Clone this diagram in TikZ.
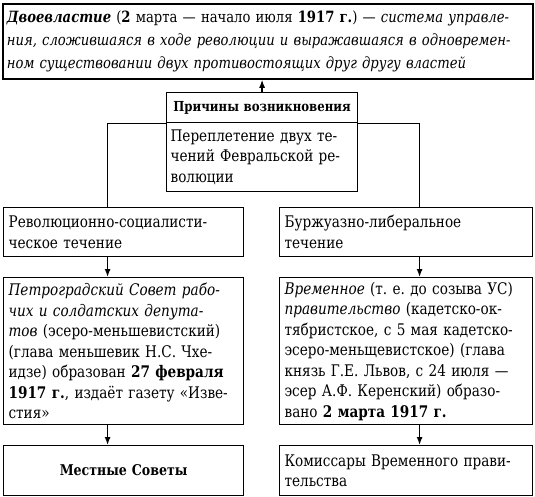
\documentclass[tikz,border=0pt]{standalone}
\usepackage{fontspec}
\setmainfont[FakeStretch=0.85]{DejaVu Serif}
\usetikzlibrary{arrows.meta,positioning,calc}
\newcommand\jl[1]{\makebox[\hsize][s]{#1}\\}
\tikzset{
  box/.style={draw=black,line width=1.2pt,anchor=north west,inner xsep=5pt,inner ysep=2pt,align=left,font=\fontsize{16}{20.5}\selectfont},
  arr/.style={-{Latex[length=8pt,width=6pt]},line width=1.3pt},
  lnk/.style={line width=1.3pt},
}
\frenchspacing

\begin{document}
\begin{tikzpicture}[x=1pt,y=-1pt]
  \useasboundingbox (0,0) rectangle (535,496);
  % definition
  \node[box,line width=1.8pt,inner xsep=4pt,text width=522pt,minimum height=75pt,font=\fontsize{15.5}{23}\selectfont] (def) at (2,3)
    {\jl{\textbf{\textit{Двоевластие}} (\textbf{2} марта — начало июля \textbf{1917 г.}) — \textit{система управле-}}
     \jl{\textit{ния, сложившаяся в ходе революции и выражавшаяся в одновремен-}}
     \textit{ном существовании двух противостоящих друг другу властей}};
  % causes
  \node[box,inner xsep=4pt,text width=183pt,minimum height=30pt,align=center,font=\fontsize{13.8}{14}\selectfont\bfseries] (why) at (166,92) {Причины возникновения};
  \node[box,inner xsep=4pt,text width=183pt,minimum height=69pt] (cause) at (166,122)
    {\jl{Переплетение двух те-}\jl{чений Февральской ре-}волюции};
  % two currents
  \node[box,text width=230pt,minimum height=49pt] (soc) at (3,207) {Революционно-социалисти-\\ческое течение};
  \node[box,text width=243pt,minimum height=49pt] (lib) at (279,207) {Буржуазно-либеральное\\течение};
  % bodies of power
  \node[box,text width=230pt,minimum height=147pt] (sovet) at (3,277)
    {\jl{\textit{Петроградский Совет рабо-}}
     \jl{\textit{чих и солдатских депута-}}
     \jl{\textit{тов} (эсеро-меньшевистский)}
     \jl{(глава меньшевик Н.С. Чхе-}
     \jl{идзе) образован \textbf{27 февраля}}
     \jl{\textbf{1917 г.}, издаёт газету «Изве-}
     стия»};
  \node[box,text width=243pt,minimum height=147pt] (govt) at (279,277)
    {\jl{\textit{Временное} (т. е. до созыва УС)}
     \jl{\textit{правительство} (кадетско-ок-}
     \jl{тябристское, с 5 мая кадетско-}
     \jl{эсеро-меньщевистское) (глава}
     \jl{князь Г.Е. Львов, с 24 июля —}
     \jl{эсер А.Ф. Керенский) образо-}
     вано \textbf{2 марта 1917 г.}};
  % local level
  \node[box,text width=230pt,minimum height=50pt,align=center,font=\fontsize{14.8}{20.5}\selectfont\bfseries] (local) at (3,445) {Местные Советы};
  \node[box,text width=243pt,minimum height=50pt] (komis) at (279,445)
    {\jl{Комиссары Временного прави-}тельства};
  % connectors
  \draw[arr] (why.north) -- (why.north |- def.south);
  \draw[lnk] ([xshift=-16pt]soc.north) |- (why.south west);
  \draw[lnk] ([xshift=13.5pt]lib.north) |- (why.south east);
  \draw[arr] ([xshift=-16pt]soc.south) -- ([xshift=-16pt]sovet.north);
  \draw[arr] ([xshift=13.5pt]lib.south) -- ([xshift=13.5pt]govt.north);
  \draw[arr] ([xshift=-16pt]sovet.south) -- ([xshift=-16pt]local.north);
  \draw[arr] ([xshift=13.5pt]govt.south) -- ([xshift=13.5pt]komis.north);
\end{tikzpicture}
\end{document}
